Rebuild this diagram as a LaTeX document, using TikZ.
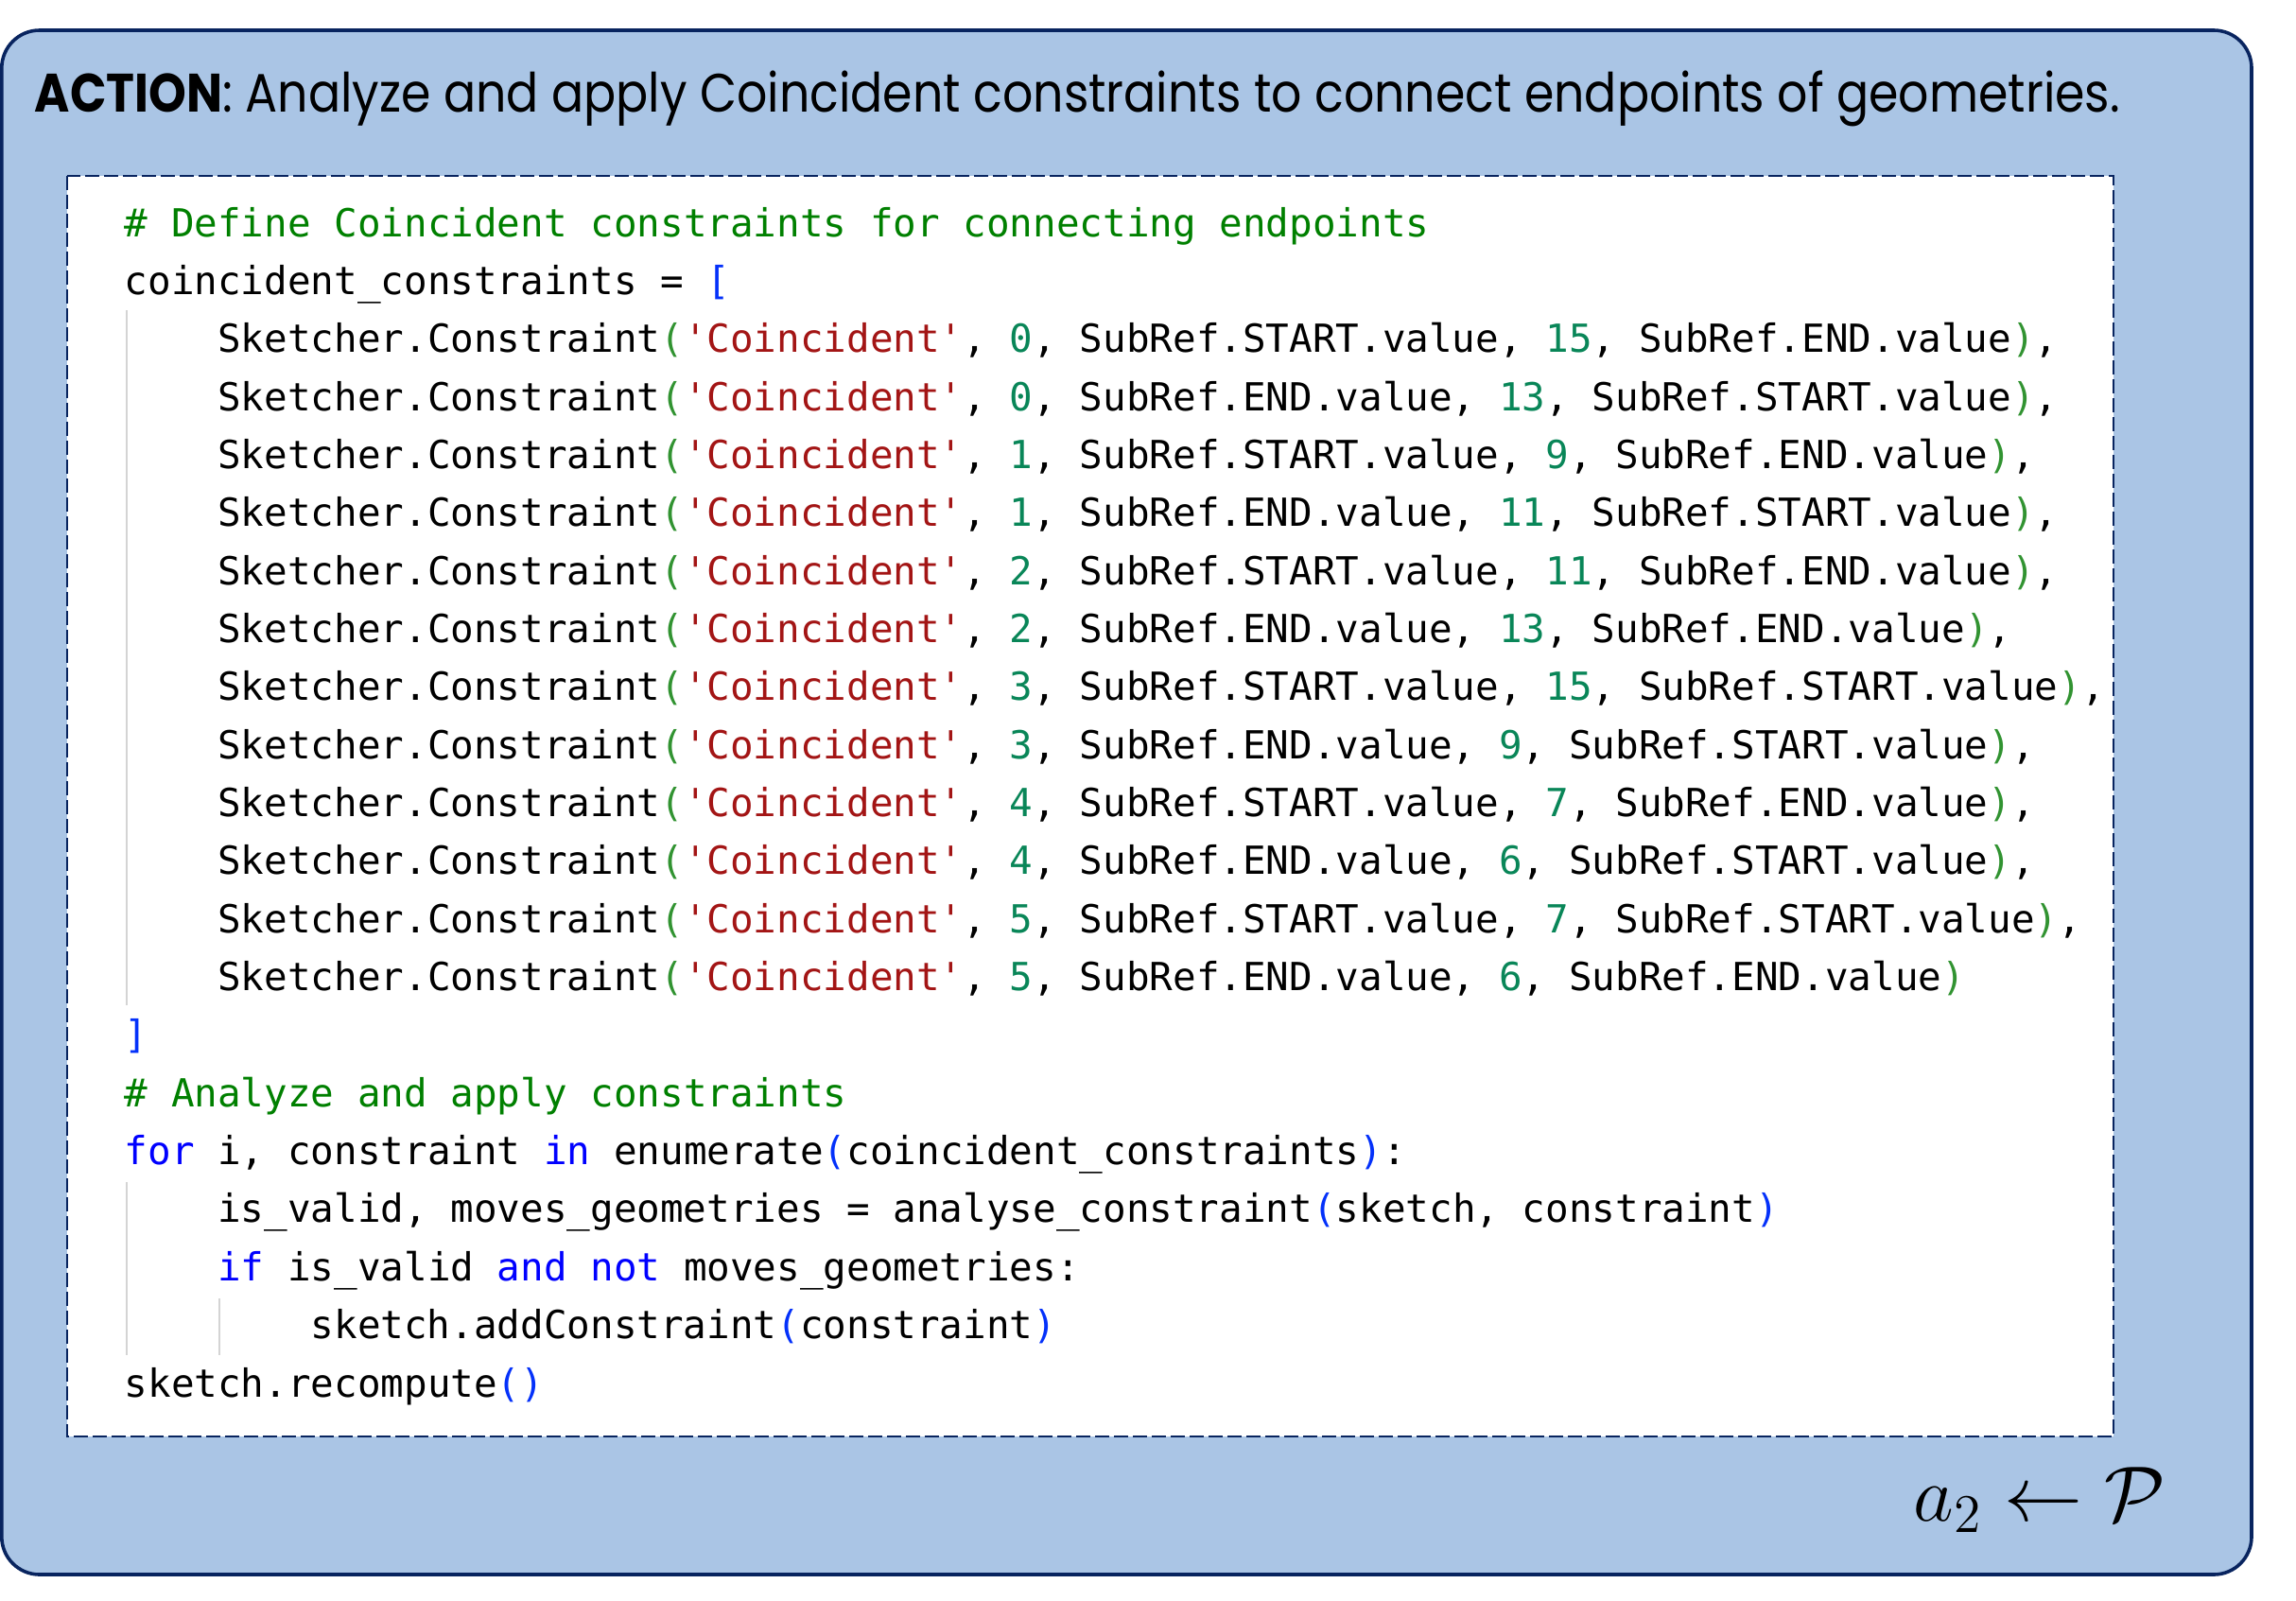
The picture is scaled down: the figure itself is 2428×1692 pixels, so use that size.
\documentclass[tikz,border=0pt]{standalone}
\usepackage[no-math]{fontspec}
\usepackage{graphicx}
\setmainfont{Poppins}
\setmonofont{DejaVu Sans Mono}
\definecolor{panelfill}{RGB}{170,197,229}
\definecolor{navy}{RGB}{8,36,95}
\definecolor{cmtc}{RGB}{0,128,0}
\definecolor{kwc}{RGB}{0,0,255}
\definecolor{brA}{RGB}{4,49,250}
\definecolor{brB}{RGB}{49,147,49}
\definecolor{strc}{RGB}{163,21,21}
\definecolor{numc}{RGB}{9,134,88}
\definecolor{guidec}{RGB}{212,212,212}
\newcommand{\ccm}[1]{{\color{cmtc}#1}}
\newcommand{\ckw}[1]{{\color{kwc}#1}}
\newcommand{\cbA}[1]{{\color{brA}#1}}
\newcommand{\cbB}[1]{{\color{brB}#1}}
\newcommand{\cstr}[1]{{\color{strc}#1}}
\newcommand{\cnum}[1]{{\color{numc}#1}}
\newcommand{\codefont}{\fontsize{10.23}{12}\selectfont\ttfamily}
\newcommand{\sk}[6]{Sketcher.Constraint\cbB{(}\cstr{'Coincident'}, \cnum{#1}, SubRef.#2.value, \cnum{#3}, SubRef.#4.value\cbB{)}#5}
\begin{document}
\begin{tikzpicture}[x=0.25pt,y=-0.25pt,
  panel/.style={draw=navy,line width=0.9pt,fill=panelfill,rounded corners=10pt},
  codebox/.style={draw=navy,line width=0.6pt,fill=white,dash pattern=on 3.75pt off 1.25pt},
  guide/.style={draw=guidec,line width=0.5pt},
  code/.style={anchor=base west,inner sep=0pt,font=\codefont}]
\useasboundingbox (0,0) rectangle (2428,1692);
\draw[panel] (1.8,32) rectangle (2381,1665);
\draw[codebox] (71,186) rectangle (2235,1519);
\node[anchor=base west,inner sep=0pt] (title) at (36,118)
  {\resizebox{551.25pt}{\height}{\fontsize{14.3}{17}\selectfont\textbf{ACTION}: Analyze and apply Coincident constraints to connect endpoints of geometries.}};
\draw[guide] (134,328) -- (134,1063);
\draw[guide] (134,1250) -- (134,1433);
\draw[guide] (232,1373) -- (232,1433);
\node[code] (l1) at (131,250) {\ccm{\# Define Coincident constraints for connecting endpoints}};
\node[code] (l2) at (131,311.35) {coincident\_constraints = \cbA{[}};
\node[code] (l3) at (229.5,372.7) {\sk{0}{START}{15}{END}{,}{}};
\node[code] (l4) at (229.5,434.05) {\sk{0}{END}{13}{START}{,}{}};
\node[code] (l5) at (229.5,495.4) {\sk{1}{START}{9}{END}{,}{}};
\node[code] (l6) at (229.5,556.75) {\sk{1}{END}{11}{START}{,}{}};
\node[code] (l7) at (229.5,618.1) {\sk{2}{START}{11}{END}{,}{}};
\node[code] (l8) at (229.5,679.45) {\sk{2}{END}{13}{END}{,}{}};
\node[code] (l9) at (229.5,740.8) {\sk{3}{START}{15}{START}{,}{}};
\node[code] (l10) at (229.5,802.15) {\sk{3}{END}{9}{START}{,}{}};
\node[code] (l11) at (229.5,863.5) {\sk{4}{START}{7}{END}{,}{}};
\node[code] (l12) at (229.5,924.85) {\sk{4}{END}{6}{START}{,}{}};
\node[code] (l13) at (229.5,986.2) {\sk{5}{START}{7}{START}{,}{}};
\node[code] (l14) at (229.5,1047.55) {\sk{5}{END}{6}{END}{}{}};
\node[code] (l15) at (131,1108.9) {\cbA{]}};
\node[code] (l16) at (131,1170.25) {\ccm{\# Analyze and apply constraints}};
\node[code] (l17) at (131,1231.6) {\ckw{for} i, constraint \ckw{in} enumerate\cbA{(}coincident\_constraints\cbA{)}:};
\node[code] (l18) at (229.5,1292.95) {is\_valid, moves\_geometries = analyse\_constraint\cbA{(}sketch, constraint\cbA{)}};
\node[code] (l19) at (229.5,1354.3) {\ckw{if} is\_valid \ckw{and} \ckw{not} moves\_geometries:};
\node[code] (l20) at (328,1415.65) {sketch.addConstraint\cbA{(}constraint\cbA{)}};
\node[code] (l21) at (131,1477) {sketch.recompute\cbA{()}};
\node[anchor=base east,inner sep=0pt] (policy) at (2291,1608)
  {\fontsize{20.8}{24}\selectfont$a_2 \leftarrow \mathcal{P}$};
\end{tikzpicture}
\end{document}
